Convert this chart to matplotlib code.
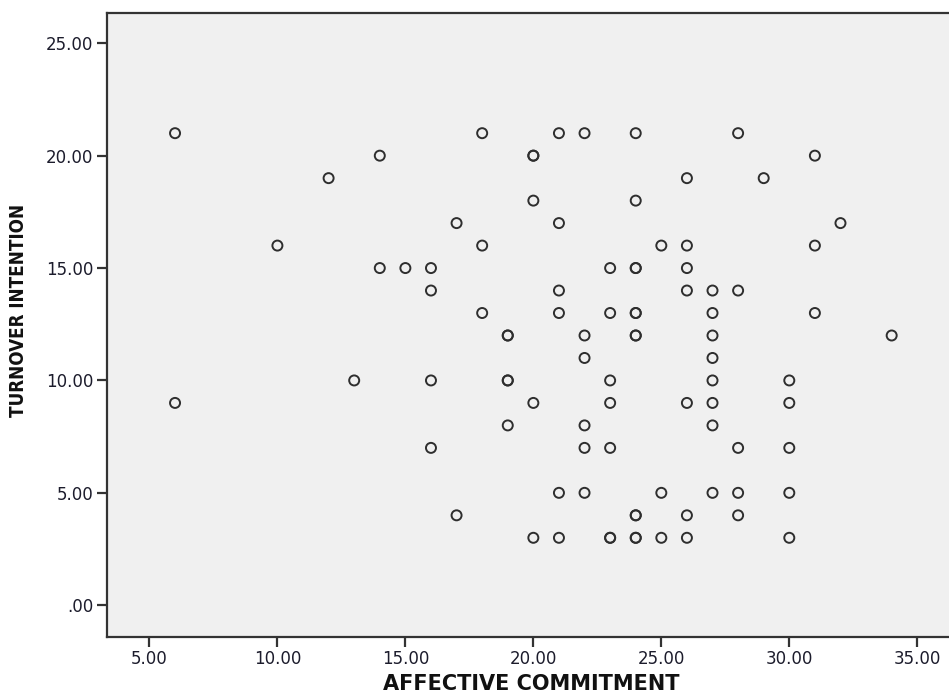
import matplotlib
matplotlib.use("Agg")
import matplotlib.pyplot as plt

# Data (duplicates appear as darker circles in the reference)
affective = [6, 18, 21, 22, 24, 28,
             14, 20, 20, 31,
             12, 26, 29,
             20, 24,
             17, 21, 32,
             10, 18, 25, 26, 31,
             14, 15, 16, 23, 24, 24, 26,
             16, 21, 26, 27, 28,
             18, 21, 23, 24, 24, 27, 31,
             19, 19, 22, 24, 24, 27, 34,
             22, 27,
             13, 16, 19, 19, 23, 27, 30,
             6, 20, 23, 26, 27, 30,
             19, 22, 27,
             16, 22, 23, 28, 30,
             21, 22, 25, 27, 28, 30,
             17, 24, 24, 26, 28,
             20, 21, 23, 23, 24, 24, 25, 26, 30]
turnover = [21, 21, 21, 21, 21, 21,
            20, 20, 20, 20,
            19, 19, 19,
            18, 18,
            17, 17, 17,
            16, 16, 16, 16, 16,
            15, 15, 15, 15, 15, 15, 15,
            14, 14, 14, 14, 14,
            13, 13, 13, 13, 13, 13, 13,
            12, 12, 12, 12, 12, 12, 12,
            11, 11,
            10, 10, 10, 10, 10, 10, 10,
            9, 9, 9, 9, 9, 9,
            8, 8, 8,
            7, 7, 7, 7, 7,
            5, 5, 5, 5, 5, 5,
            4, 4, 4, 4, 4,
            3, 3, 3, 3, 3, 3, 3, 3, 3]

x_ticks = [5, 10, 15, 20, 25, 30, 35]
x_tick_labels = ["5.00", "10.00", "15.00", "20.00", "25.00", "30.00", "35.00"]
y_ticks = [0, 5, 10, 15, 20, 25]
y_tick_labels = [".00", "5.00", "10.00", "15.00", "20.00", "25.00"]

W, H = 949, 695
L, B, T = 106.7, 636.7, 12.7

fig = plt.figure(figsize=(9.49, 6.95), dpi=100)
fig.patch.set_facecolor("white")
ax = fig.add_axes([L / W, (H - B) / H, 1.0 - L / W, (B - T) / H])
ax.set_facecolor("#f0f0f0")

ax.scatter(affective, turnover, s=52, facecolors="none", edgecolors="#2e2e2e",
           linewidths=1.4, zorder=3)

ax.set_xlim(3.33, 36.24)
ax.set_ylim(-1.40, 26.36)
ax.set_xticks(x_ticks)
ax.set_xticklabels(x_tick_labels)
ax.set_yticks(y_ticks)
ax.set_yticklabels(y_tick_labels)

for side in ["left", "bottom", "top"]:
    ax.spines[side].set_color("#333333")
    ax.spines[side].set_linewidth(1.6)
ax.spines["right"].set_visible(False)

ax.tick_params(axis="both", direction="out", length=7, width=1.6, color="#333333",
               labelsize=12, labelcolor="#1c1c2c", pad=2.5)

ax.set_xlabel("AFFECTIVE COMMITMENT", fontsize=15, fontweight="bold", color="#111111",
              va="bottom")
ax.set_ylabel("TURNOVER INTENTION", fontsize=13.5, fontweight="bold", color="#111111",
              fontstretch="condensed")
ax.xaxis.set_label_coords((531 - L) / (W - L), (B - 694) / (B - T))
ax.yaxis.set_label_coords((28 - L) / (W - L), (B - 310) / (B - T))

fig.savefig("out.png", dpi=100)
